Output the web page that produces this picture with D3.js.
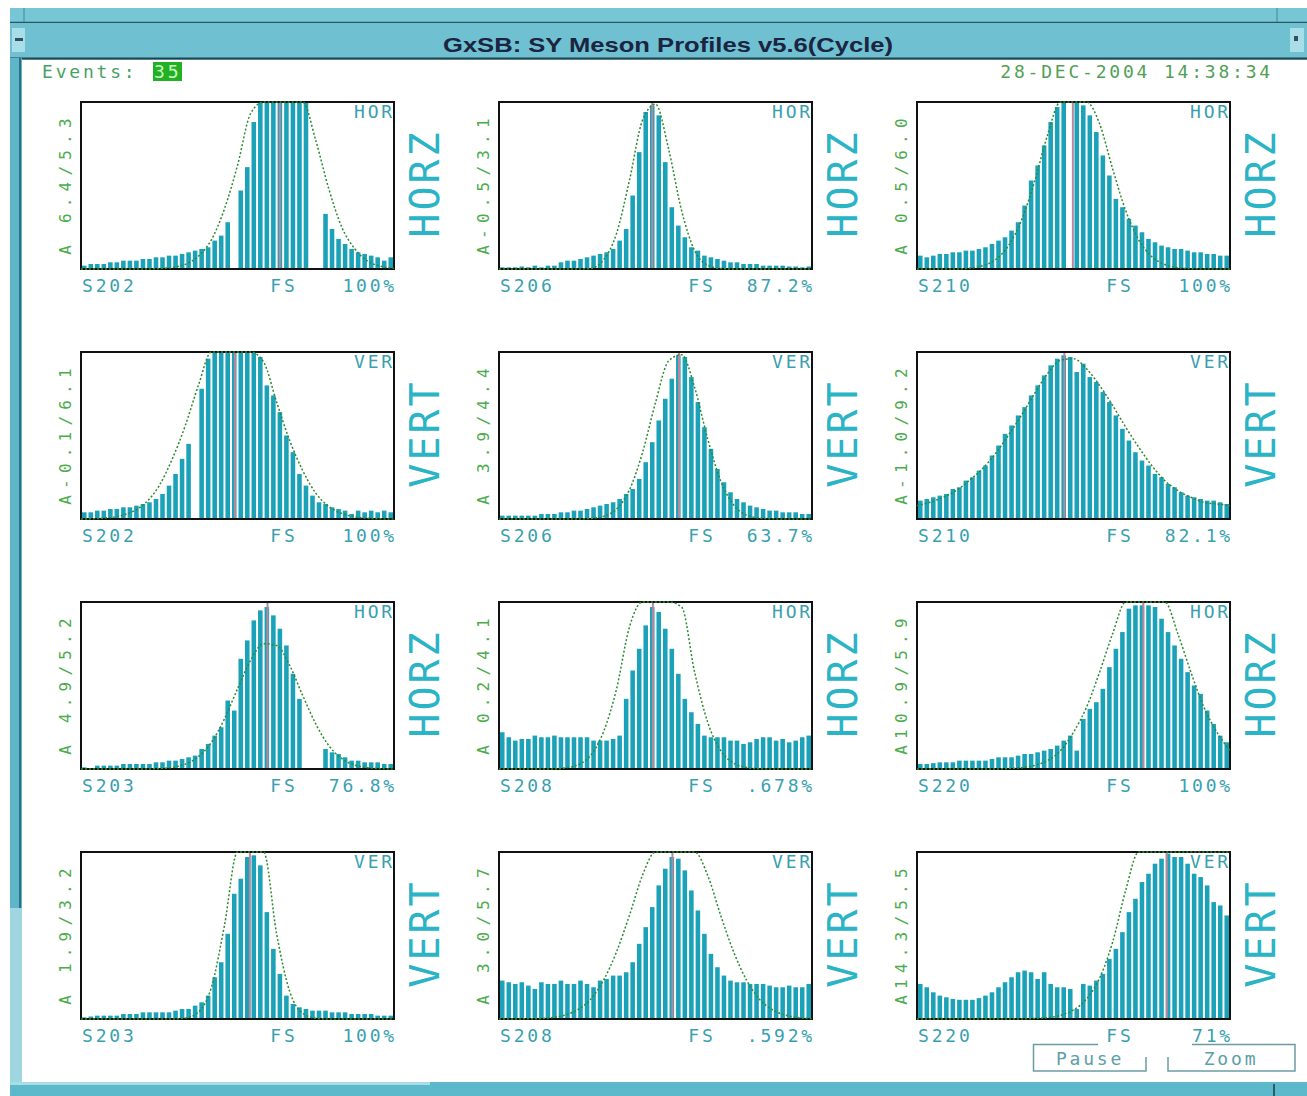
<!DOCTYPE html>
<html>
<head>
<meta charset="utf-8">
<script src="https://cdn.jsdelivr.net/npm/d3@7"></script>
<style>
  body { margin: 0; background: #ffffff; }
  svg { display: block; }
</style>
</head>
<body>
<script>
// profile bins, 48 per monitor, heights as fraction of full scale
const barsS202H = [0.02,0.03,0.03,0.03,0.04,0.04,0.05,0.05,0.05,0.06,
  0.06,0.07,0.07,0.08,0.08,0.09,0.10,0.11,0.12,0.13,
  0.17,0.20,0.28,0,0.47,0.61,0.88,1,1,1,
  1,1,1,1,1,0,0,0.33,0.24,0.18,
  0.15,0.12,0.10,0.09,0.08,0.07,0.05,0.07];
const barsS206H = [0.01,0.01,0.01,0.015,0.01,0.02,0.01,0.02,0.02,0.04,
  0.05,0.05,0.06,0.07,0.08,0.09,0.10,0.12,0.17,0.24,
  0.44,0.70,0.94,0.98,0.92,0.64,0.37,0.26,0.19,0.13,
  0.11,0.08,0.07,0.06,0.05,0.04,0.04,0.03,0.03,0.03,
  0.02,0.02,0.02,0.02,0.015,0.015,0.01,0.015];
const barsS210H = [0.08,0.07,0.08,0.09,0.09,0.10,0.10,0.11,0.11,0.12,
  0.13,0.15,0.17,0.19,0.23,0.28,0.38,0.53,0.62,0.74,
  0.88,0.97,1,0,1,0.98,0.92,0.82,0.68,0.56,
  0.42,0.37,0.30,0.26,0.22,0.18,0.16,0.14,0.13,0.12,
  0.12,0.11,0.10,0.10,0.09,0.09,0.08,0.08];
const barsS202V = [0.04,0.04,0.05,0.05,0.06,0.06,0.07,0.07,0.08,0.09,
  0.10,0.12,0.15,0.20,0.27,0.36,0.45,0,0.78,0.96,
  1,1,1,1,1,1,1,0.97,0.80,0.74,
  0.64,0.50,0.40,0.27,0.20,0.14,0.10,0.09,0.07,0.06,
  0.05,0.03,0.05,0.04,0.05,0.04,0.05,0.04];
const barsS206V = [0.02,0.02,0.02,0.02,0.02,0.02,0.03,0.03,0.03,0.04,
  0.04,0.05,0.05,0.06,0.07,0.08,0.09,0.10,0.12,0.15,
  0.18,0.24,0.34,0.46,0.59,0.72,0.84,0.98,0.97,0.85,
  0.70,0.55,0.42,0.30,0.22,0.16,0.12,0.10,0.08,0.07,
  0.06,0.05,0.05,0.04,0.04,0.04,0.03,0.03];
const barsS210V = [0.11,0.12,0.13,0.14,0.15,0.18,0.19,0.23,0.25,0.29,
  0.32,0.38,0.44,0.51,0.56,0.62,0.67,0.74,0.80,0.86,
  0.92,0.96,0.98,0.97,0.88,0.93,0.85,0.82,0.76,0.70,
  0.62,0.54,0.47,0.40,0.35,0.32,0.27,0.25,0.21,0.19,
  0.16,0.14,0.13,0.12,0.11,0.11,0.10,0.09];
const barsS203H = [0.01,0,0.02,0.02,0.02,0.02,0.03,0.03,0.03,0.03,
  0.03,0.04,0.04,0.05,0.05,0.06,0.07,0.08,0.12,0.15,
  0.20,0.25,0.41,0.35,0.66,0.77,0.89,0.95,0.97,0.92,
  0.84,0.74,0.57,0.42,0,0,0,0.12,0.10,0.09,
  0.07,0.05,0.05,0.04,0.04,0.04,0.03,0.03];
const barsS208H = [0.22,0.19,0.17,0.18,0.18,0.20,0.19,0.19,0.20,0.19,
  0.19,0.19,0.19,0.19,0.17,0.17,0.17,0.18,0.20,0.42,
  0.59,0.72,0.86,0.97,0.94,0.84,0.72,0.57,0.42,0.34,
  0.27,0.20,0.19,0.19,0.19,0.17,0.17,0.15,0.16,0.18,
  0.19,0.19,0.17,0.18,0.16,0.17,0.19,0.20];
const barsS220H = [0.03,0.03,0.035,0.04,0.04,0.04,0.05,0.05,0.05,0.05,
  0.05,0.06,0.07,0.07,0.07,0.08,0.09,0.09,0.10,0.11,
  0.12,0.14,0.17,0.20,0.11,0.30,0.36,0.40,0.48,0.61,
  0.72,0.82,0.96,0.98,0.98,0.98,0.97,0.90,0.82,0.74,
  0.66,0.58,0.50,0.45,0.35,0.27,0.20,0.16];
const barsS203V = [0.01,0.015,0.02,0.02,0.02,0.02,0.03,0.03,0.03,0.04,
  0.04,0.04,0.04,0.04,0.05,0.06,0.06,0.08,0.10,0.14,
  0.25,0.34,0.51,0.75,0.84,0.97,0.98,0.92,0.64,0.42,
  0.27,0.14,0.09,0.07,0.06,0.05,0.05,0.05,0.04,0.04,
  0.04,0.03,0.03,0.03,0.03,0.02,0.02,0.02];
const barsS208V = [0.23,0.22,0.21,0.22,0.20,0.18,0.22,0.21,0.21,0.23,
  0.21,0.21,0.23,0.21,0.19,0.23,0.24,0.26,0.26,0.28,
  0.34,0.45,0.55,0.67,0.80,0.90,0.97,0.96,0.89,0.77,
  0.65,0.51,0.39,0.31,0.26,0.23,0.22,0.22,0.21,0.21,
  0.21,0.20,0.19,0.19,0.20,0.19,0.19,0.21];
const barsS220V = [0.21,0.19,0.16,0.14,0.13,0.12,0.115,0.115,0.115,0.125,
  0.14,0.16,0.19,0.22,0.25,0.28,0.29,0.28,0.24,0.28,
  0.21,0.19,0.19,0.18,0.06,0.21,0.20,0.23,0.27,0.36,
  0.42,0.52,0.64,0.72,0.82,0.87,0.93,0.96,0.99,0.97,
  0.97,0.93,0.87,0.85,0.80,0.70,0.68,0.62];

// fitted curve, sampled every 2 bins (0,2,...,48); values above 1 run off the top
const fitS202H = [0,0,0,0,0,0,0.003,0.009,0.028,0.076,0.175,0.36,0.62,0.93,1.2,1.35,1.3,1.08,0.77,0.48,0.25,0.12,0.046,0.016,0.005];
const fitS206H = [0,0,0,0,0,0,0,0.003,0.053,0.21,0.53,0.89,0.987,0.72,0.35,0.11,0.023,0.003,0,0,0,0,0,0,0];
const fitS210H = [0,0,0,0,0.005,0.019,0.055,0.138,0.29,0.52,0.8,1.03,1.15,1.09,0.87,0.6,0.35,0.175,0.074,0.027,0.008,0.002,0,0,0];
const fitS202V = [0,0.002,0.007,0.019,0.046,0.10,0.2,0.36,0.56,0.8,1.02,1.18,1.22,1.13,0.94,0.7,0.47,0.29,0.155,0.075,0.033,0.013,0.004,0.001,0];
const fitS206V = [0,0,0,0,0,0,0,0.003,0.015,0.059,0.174,0.397,0.697,0.946,0.984,0.788,0.48,0.228,0.083,0.023,0.005,0.001,0,0,0];
const fitS210V = [0.08,0.1,0.13,0.17,0.23,0.3,0.39,0.5,0.62,0.75,0.87,0.95,0.96,0.9,0.8,0.68,0.55,0.43,0.32,0.23,0.17,0.13,0.1,0.09,0.08];
const fitS203H = [0,0,0,0,0,0,0.003,0.01,0.029,0.074,0.16,0.3,0.48,0.65,0.75,0.74,0.62,0.44,0.27,0.14,0.062,0.023,0.008,0.002,0];
const fitS208H = [0,0,0,0,0,0.006,0.023,0.079,0.22,0.475,0.85,1.2,1.4,1.29,0.97,0.58,0.28,0.11,0.035,0.009,0.001,0,0,0,0];
const fitS220H = [0,0,0,0,0,0,0,0.003,0.008,0.021,0.05,0.11,0.22,0.37,0.58,0.81,1.01,1.13,1.13,1.01,0.81,0.58,0.37,0.22,0.11];
const fitS203V = [0,0,0,0,0,0,0,0,0.006,0.041,0.19,0.56,1.07,1.3,1.02,0.51,0.165,0.034,0.004,0,0,0,0,0,0];
const fitS208V = [0,0,0.001,0.002,0.008,0.022,0.054,0.116,0.23,0.4,0.62,0.86,1.08,1.2,1.2,1.08,0.86,0.62,0.4,0.23,0.116,0.054,0.022,0.008,0.002];
const fitS220V = [0,0,0,0,0,0,0,0,0,0.003,0.008,0.022,0.054,0.12,0.245,0.46,0.77,1.17,1.63,2.07,2.38,2.5,2.38,2.07,1.63];

// panel labels, row by row
const stations = ['S202','S206','S210','S202','S206','S210','S203','S208','S220','S203','S208','S220'];
const planes = ['HOR','HOR','HOR','VER','VER','VER','HOR','HOR','HOR','VER','VER','VER'];
const fitLabels = ['A 6.4/5.3','A-0.5/3.1','A 0.5/6.0','A-0.1/6.1','A 3.9/4.4','A-1.0/9.2',
  'A 4.9/5.2','A 0.2/4.1','A10.9/5.9','A 1.9/3.2','A 3.0/5.7','A14.3/5.5'];
const fsLabels = ['100%','87.2%','100%','100%','63.7%','82.1%','76.8%','.678%','100%','100%','.592%','71%'];
const centroids = [30.5, 23.5, 23.9, 23.6, 27.6, 22.6, 28.6, 23.6, 34.7, 25.9, 26.6, 38.3];

const allBars = [barsS202H, barsS206H, barsS210H, barsS202V, barsS206V, barsS210V,
  barsS203H, barsS208H, barsS220H, barsS203V, barsS208V, barsS220V];
const allFits = [fitS202H, fitS206H, fitS210H, fitS202V, fitS206V, fitS210V,
  fitS203H, fitS208H, fitS220H, fitS203V, fitS208V, fitS220V];

const W = 1307, H = 1096;
const mono = '"DejaVu Sans Mono", monospace';
const teal = '#3a9fb0';
const smallSize = 18, smallSpacing = 2.8;

const svg = d3.select('body').append('svg')
  .attr('width', W)
  .attr('height', H);

// window frame
svg.append('rect').attr('x', 0).attr('y', 0).attr('width', W).attr('height', H).attr('fill', '#ffffff');
svg.append('rect').attr('x', 10).attr('y', 8).attr('width', W - 10).attr('height', 52).attr('fill', '#76c6d6');
svg.append('line').attr('x1', 24).attr('x2', 24).attr('y1', 8).attr('y2', 22).attr('stroke', '#3f8a9a');
svg.append('line').attr('x1', 1277).attr('x2', 1277).attr('y1', 8).attr('y2', 22).attr('stroke', '#3f8a9a');
svg.append('line').attr('x1', 10).attr('x2', W).attr('y1', 22.5).attr('y2', 22.5).attr('stroke', '#2b5563').attr('stroke-width', 1.5);
svg.append('rect').attr('x', 10).attr('y', 23).attr('width', W - 10).attr('height', 35).attr('fill', '#6fc0d1');
svg.append('line').attr('x1', 10).attr('x2', W).attr('y1', 58.5).attr('y2', 58.5).attr('stroke', '#24424e').attr('stroke-width', 2);
svg.append('rect').attr('x', 12).attr('y', 28).attr('width', 13).attr('height', 24).attr('fill', '#a9dde8');
svg.append('rect').attr('x', 15).attr('y', 38).attr('width', 8).attr('height', 3).attr('fill', '#34505c');
svg.append('rect').attr('x', 1290).attr('y', 28).attr('width', 14).attr('height', 24).attr('fill', '#a9dde8');
svg.append('rect').attr('x', 1294).attr('y', 36).attr('width', 4).attr('height', 5).attr('fill', '#34505c');

svg.append('text')
  .attr('x', 668).attr('y', 52)
  .attr('text-anchor', 'middle')
  .attr('font-family', '"Liberation Sans Narrow", "Liberation Sans", sans-serif')
  .attr('font-weight', 'bold')
  .attr('font-size', 21)
  .attr('textLength', 450)
  .attr('lengthAdjust', 'spacingAndGlyphs')
  .attr('fill', '#1b2441')
  .text('GxSB: SY Meson Profiles v5.6(Cycle)');

// left and bottom borders
svg.append('rect').attr('x', 10).attr('y', 58).attr('width', 12).attr('height', 850).attr('fill', '#5fb6c8');
svg.append('line').attr('x1', 20).attr('x2', 20).attr('y1', 58).attr('y2', 908).attr('stroke', '#2f6f7f').attr('stroke-width', 2);
svg.append('rect').attr('x', 10).attr('y', 908).attr('width', 12).attr('height', 188).attr('fill', '#9fd6e2');
svg.append('rect').attr('x', 10).attr('y', 1082).attr('width', W - 10).attr('height', 14).attr('fill', '#5cb8cb');
svg.append('rect').attr('x', 10).attr('y', 1082).attr('width', 420).attr('height', 3).attr('fill', '#a8dde8');
svg.append('line').attr('x1', 1274).attr('x2', 1274).attr('y1', 1084).attr('y2', 1096).attr('stroke', '#1f3f4a').attr('stroke-width', 1.5);

// header line
svg.append('text')
  .attr('x', 42).attr('y', 78)
  .attr('font-family', mono).attr('font-size', smallSize).attr('letter-spacing', smallSpacing)
  .attr('fill', '#48a064')
  .text('Events:');
svg.append('rect').attr('x', 153).attr('y', 62).attr('width', 29).attr('height', 19).attr('fill', '#22b024');
svg.append('text')
  .attr('x', 154).attr('y', 78)
  .attr('font-family', mono).attr('font-size', smallSize).attr('letter-spacing', smallSpacing)
  .attr('fill', '#c8ffc0')
  .text('35');
svg.append('text')
  .attr('x', 1273).attr('y', 78)
  .attr('text-anchor', 'end')
  .attr('font-family', mono).attr('font-size', smallSize).attr('letter-spacing', smallSpacing)
  .attr('fill', '#52a056')
  .text('28-DEC-2004 14:38:34');

// panels
const colLeft = [81, 499, 917];
const rowTop = [102, 352, 602, 852];
const boxW = 313, boxH = 167;

const x = d3.scaleBand()
  .domain(d3.range(48))
  .range([0, boxW])
  .paddingInner(0.3)
  .paddingOuter(0.15);
const xPos = d3.scaleLinear().domain([0, 48]).range([0, boxW]);
const y = d3.scaleLinear().domain([0, 1]).range([boxH, 0]).clamp(true);

const fitLine = d3.line()
  .x((d, k) => xPos(k * 2))
  .y(d => y(Math.min(d, 1)))
  .curve(d3.curveMonotoneX);

allBars.forEach((vals, p) => {
  const left = colLeft[p % 3];
  const top = rowTop[Math.floor(p / 3)];
  const g = svg.append('g').attr('transform', `translate(${left},${top})`);

  g.selectAll('rect.bar')
    .data(vals)
    .join('rect')
    .attr('class', 'bar')
    .attr('x', (d, i) => x(i))
    .attr('y', d => y(d))
    .attr('width', x.bandwidth())
    .attr('height', d => boxH - y(d))
    .attr('fill', '#1ba2b9');

  g.append('line')
    .attr('x1', xPos(centroids[p])).attr('x2', xPos(centroids[p]))
    .attr('y1', 0).attr('y2', boxH)
    .attr('stroke', '#b8889c')
    .attr('stroke-width', 2);

  g.append('rect')
    .attr('width', boxW).attr('height', boxH)
    .attr('fill', 'none')
    .attr('stroke', '#111111')
    .attr('stroke-width', 2);

  g.append('path')
    .datum(allFits[p])
    .attr('d', fitLine)
    .attr('fill', 'none')
    .attr('stroke', '#2d8a30')
    .attr('stroke-width', 1.5)
    .attr('stroke-dasharray', '2,2');

  g.append('text')
    .attr('x', boxW + 1).attr('y', 16)
    .attr('text-anchor', 'end')
    .attr('font-family', mono).attr('font-size', smallSize).attr('letter-spacing', smallSpacing)
    .attr('fill', teal)
    .text(planes[p]);

  // labels under the box
  g.append('text')
    .attr('x', 1).attr('y', boxH + 23)
    .attr('font-family', mono).attr('font-size', smallSize).attr('letter-spacing', smallSpacing)
    .attr('fill', teal)
    .text(stations[p]);
  g.append('text')
    .attr('x', 203).attr('y', boxH + 23)
    .attr('text-anchor', 'middle')
    .attr('font-family', mono).attr('font-size', smallSize).attr('letter-spacing', smallSpacing)
    .attr('fill', teal)
    .text('FS');
  g.append('text')
    .attr('x', boxW + 3).attr('y', boxH + 23)
    .attr('text-anchor', 'end')
    .attr('font-family', mono).attr('font-size', smallSize).attr('letter-spacing', smallSpacing)
    .attr('fill', teal)
    .text(fsLabels[p]);

  // rotated fit label on the left
  g.append('text')
    .attr('transform', `translate(-16,${boxH / 2 - 2}) rotate(-90)`)
    .attr('text-anchor', 'middle')
    .attr('dominant-baseline', 'central')
    .attr('font-family', mono).attr('font-size', 16).attr('letter-spacing', 6.2)
    .attr('fill', '#4cab4c')
    .text(fitLabels[p]);

  // big plane label on the right
  g.append('text')
    .attr('transform', `translate(${boxW + 31},${boxH / 2 - 2}) rotate(-90)`)
    .attr('text-anchor', 'middle')
    .attr('dominant-baseline', 'central')
    .attr('font-family', mono).attr('font-size', 40).attr('letter-spacing', 3)
    .attr('fill', '#2bb3c6')
    .text(planes[p] === 'HOR' ? 'HORZ' : 'VERT');
});

// buttons
svg.append('path')
  .attr('d', 'M1098,1044.5 H1033.5 V1071 H1146 V1057')
  .attr('fill', 'none').attr('stroke', '#6b9ca2').attr('stroke-width', 1.5);
svg.append('path')
  .attr('d', 'M1168,1057 V1071 H1295 V1044.5 H1192')
  .attr('fill', 'none').attr('stroke', '#6b9ca2').attr('stroke-width', 1.5);
svg.append('text')
  .attr('x', 1090).attr('y', 1065)
  .attr('text-anchor', 'middle')
  .attr('font-family', mono).attr('font-size', smallSize).attr('letter-spacing', smallSpacing)
  .attr('fill', '#5e9ea6')
  .text('Pause');
svg.append('text')
  .attr('x', 1231).attr('y', 1065)
  .attr('text-anchor', 'middle')
  .attr('font-family', mono).attr('font-size', smallSize).attr('letter-spacing', smallSpacing)
  .attr('fill', '#5e9ea6')
  .text('Zoom');
</script>
</body>
</html>
